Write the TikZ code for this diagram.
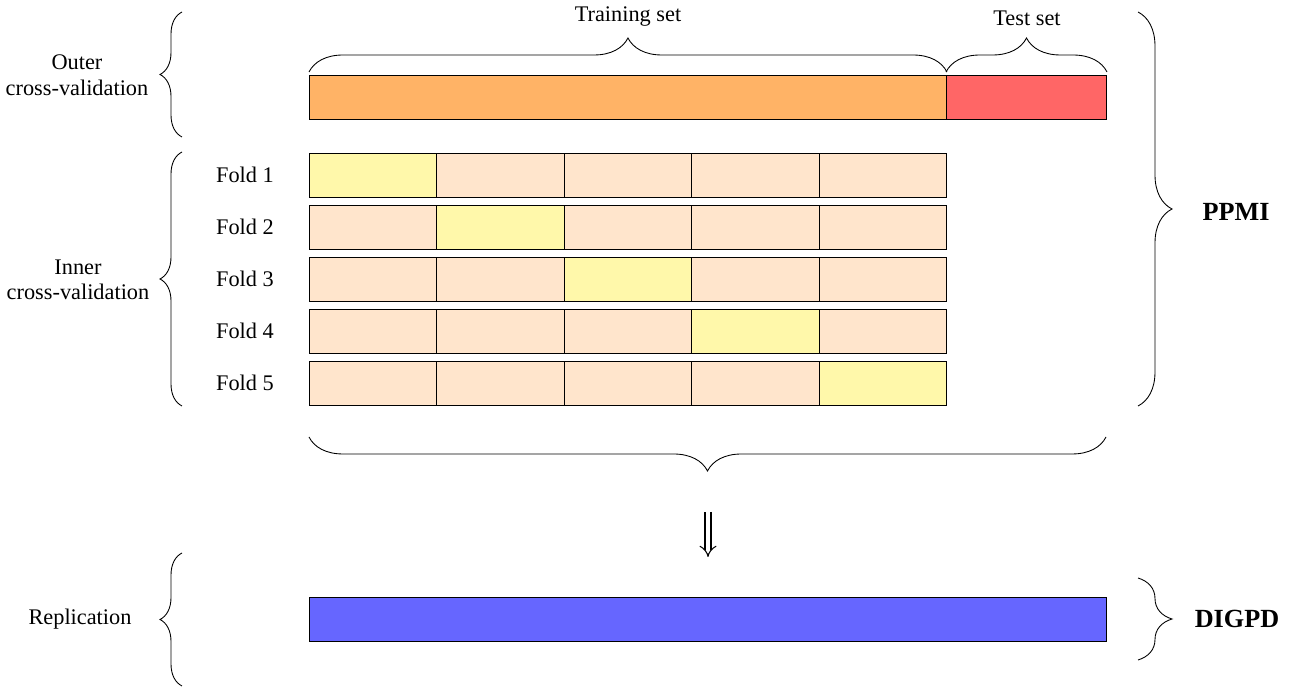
\documentclass[tikz,border=0pt]{standalone}
\usepackage{fontspec}
\setmainfont{Liberation Serif}
\usepackage{xcolor}
\usepackage{tikz}
\usetikzlibrary{positioning,calc,decorations.pathreplacing,arrows.meta}
\definecolor{trainc}{RGB}{255,179,102}
\definecolor{testc}{RGB}{255,102,102}
\definecolor{foldc}{RGB}{255,229,204}
\definecolor{valc}{RGB}{255,248,170}
\definecolor{repc}{RGB}{102,102,255}
\tikzstyle{bar}= [rectangle, draw, line width=0.6pt, inner sep=0pt, minimum height=0.88cm, anchor=north west]
\tikzstyle{cell}= [bar, fill=foldc, minimum width=2.548cm]
\tikzstyle{val}= [cell, fill=valc]
\tikzstyle{lbl}= [align=center, font=\fontsize{12.7}{14.5}\selectfont]
\tikzstyle{big}= [font=\fontsize{14.9}{17}\selectfont\bfseries]
\tikzstyle{brs}= [decorate, decoration={brace, amplitude=0.44cm}, line width=0.5pt]
\tikzstyle{brl}= [decorate, decoration={brace, amplitude=0.68cm}, line width=0.5pt]

\begin{document}
\begin{tikzpicture}[x=0.02cm, y=-0.02cm]
				\useasboundingbox (0, 0) rectangle (1289, 688);
				
				% outer split
				\node[bar, fill=trainc, minimum width=12.74cm] (train) at (309, 75) {};
				\node[bar, fill=testc, minimum width=3.2cm] (test) at (946, 75) {};
				
				% inner folds
				\node[val] (f11) at (309, 153) {};
				\node[cell] (f12) at (436.4, 153) {};
				\node[cell] (f13) at (563.8, 153) {};
				\node[cell] (f14) at (691.2, 153) {};
				\node[cell] (f15) at (818.6, 153) {};
				
				\node[cell] (f21) at (309, 205) {};
				\node[val] (f22) at (436.4, 205) {};
				\node[cell] (f23) at (563.8, 205) {};
				\node[cell] (f24) at (691.2, 205) {};
				\node[cell] (f25) at (818.6, 205) {};
				
				\node[cell] (f31) at (309, 257) {};
				\node[cell] (f32) at (436.4, 257) {};
				\node[val] (f33) at (563.8, 257) {};
				\node[cell] (f34) at (691.2, 257) {};
				\node[cell] (f35) at (818.6, 257) {};
				
				\node[cell] (f41) at (309, 309) {};
				\node[cell] (f42) at (436.4, 309) {};
				\node[cell] (f43) at (563.8, 309) {};
				\node[val] (f44) at (691.2, 309) {};
				\node[cell] (f45) at (818.6, 309) {};
				
				\node[cell] (f51) at (309, 361) {};
				\node[cell] (f52) at (436.4, 361) {};
				\node[cell] (f53) at (563.8, 361) {};
				\node[cell] (f54) at (691.2, 361) {};
				\node[val] (f55) at (818.6, 361) {};
				
				\node[lbl] (fold1) at (245, 175) {Fold 1};
				\node[lbl] (fold2) at (245, 227) {Fold 2};
				\node[lbl] (fold3) at (245, 279) {Fold 3};
				\node[lbl] (fold4) at (245, 331) {Fold 4};
				\node[lbl] (fold5) at (245, 383) {Fold 5};
				
				% replication
				\node[bar, fill=repc, minimum width=15.94cm] (rep) at (309, 597) {};
				
				% labels
				\node[lbl] (outer) at (77, 75) {Outer\\cross-validation};
				\node[lbl] (inner) at (78, 280) {Inner\\cross-validation};
				\node[lbl] (repl) at (80, 619) {Replication};
				\node[lbl] (traint) at (628, 17) {Training set};
				\node[lbl] (testt) at (1027, 18) {Test set};
				\node[big] (ppmi) at (1236, 212) {PPMI};
				\node[big] (digpd) at (1237, 619) {DIGPD};
				
				% braces
				\coordinate (ob1) at (182, 137);
				\coordinate (ob2) at (182, 12);
				\coordinate (ib1) at (182, 406);
				\coordinate (ib2) at (182, 152);
				\coordinate (rb1) at (182, 686);
				\coordinate (rb2) at (182, 553);
				\coordinate (pb1) at (1138, 12);
				\coordinate (pb2) at (1138, 406);
				\coordinate (db1) at (1138, 578);
				\coordinate (db2) at (1138, 660);
				\coordinate (bb1) at (1106, 437);
				\coordinate (bb2) at (309, 437);
				
				\draw[brs](ob1) -- (ob2);
				\draw[brs](ib1) -- (ib2);
				\draw[brs](rb1) -- (rb2);
				\draw[brl](pb1) -- (pb2);
				\draw[brl](db1) -- (db2);
				\draw[brl](bb1) -- (bb2);
				\draw[brl, decoration={raise=0.06cm}](train.north west) -- (train.north east);
				\draw[brl, decoration={raise=0.06cm}](test.north west) -- (test.north east);
				
				% arrow
				\coordinate (a1) at (708, 512);
				\coordinate (a2) at (708, 557);
				\draw[double, double distance=2.8pt, line width=0.6pt, -{Implies[scale=1.4]}](a1) -- (a2);
			\end{tikzpicture}
\end{document}
